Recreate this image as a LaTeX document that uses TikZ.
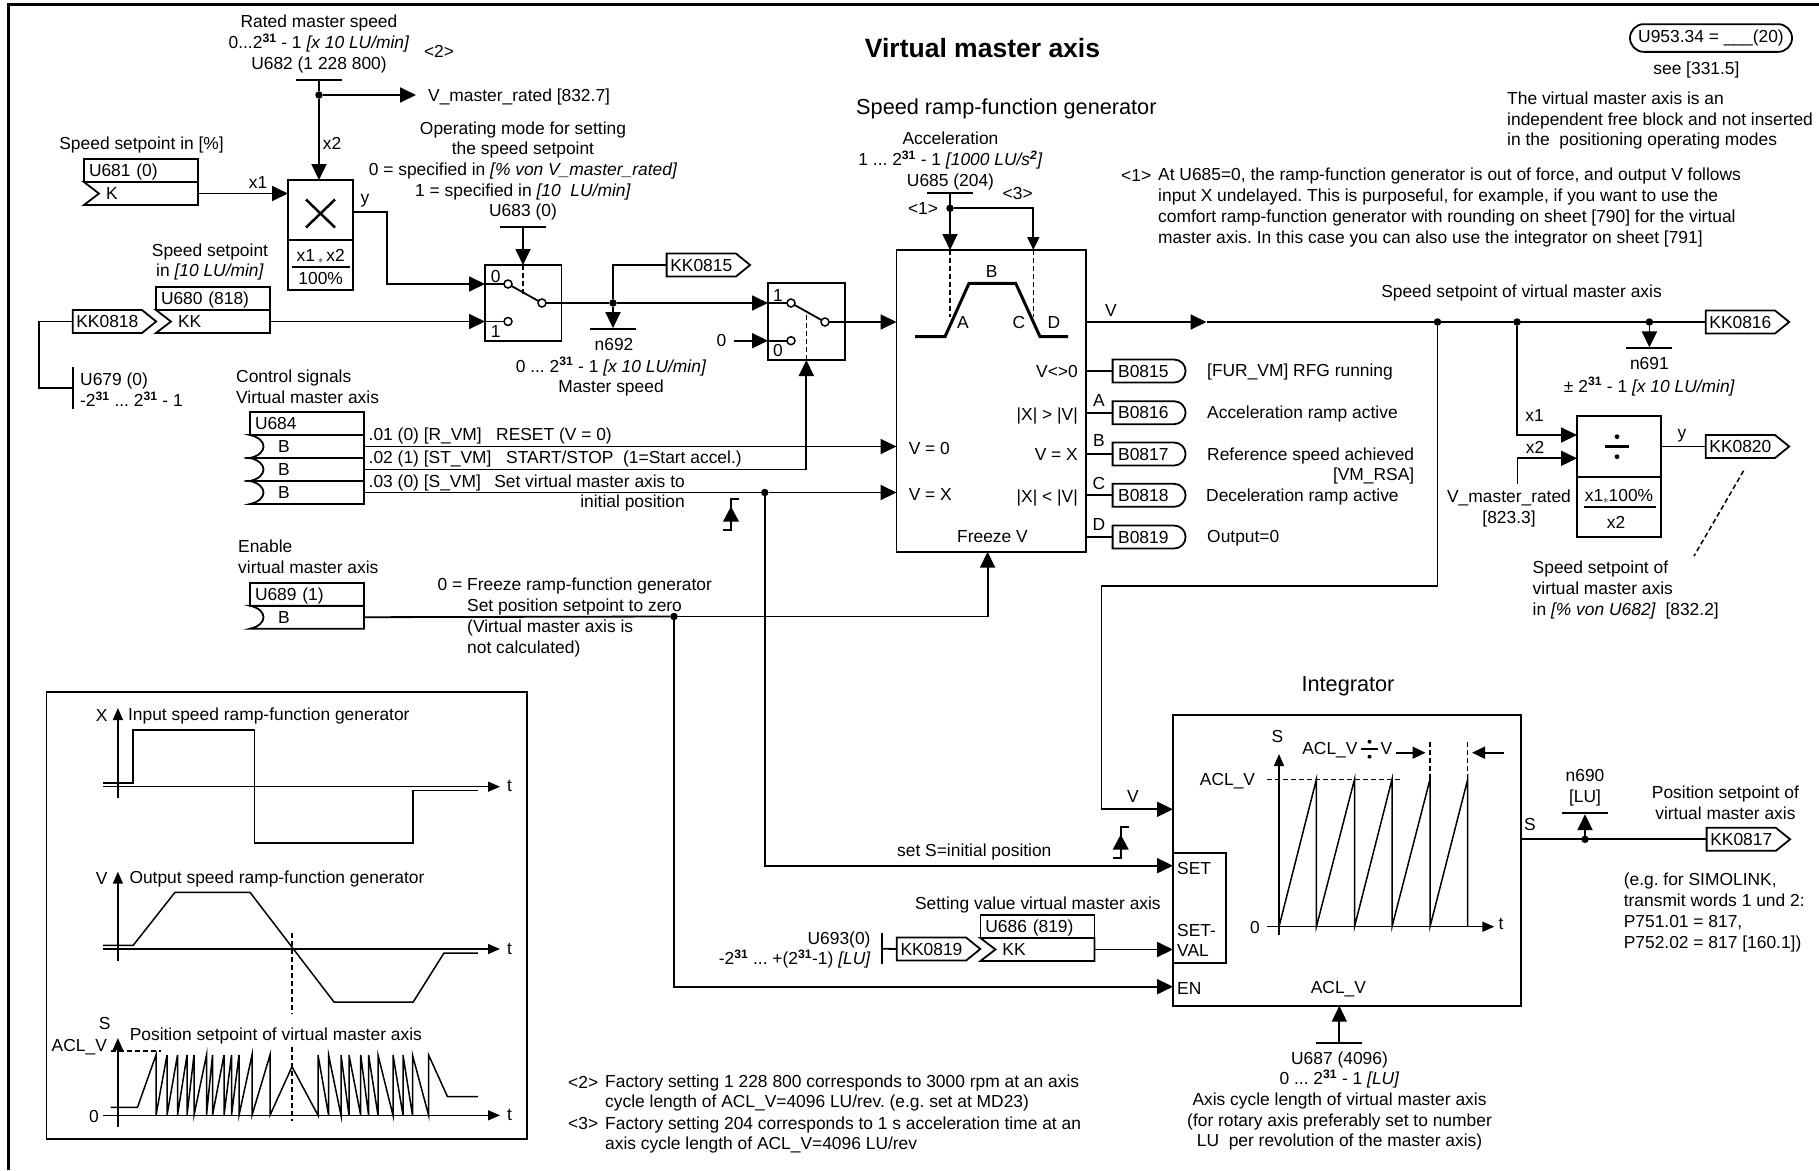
\documentclass[tikz,border=0pt]{standalone}
\usepackage{fontspec}
\setmainfont{Liberation Sans}
\usetikzlibrary{shapes.geometric,shapes.misc,shapes.symbols,calc,arrows.meta,positioning}
\frenchspacing

\newcommand{\twoexp}{2\textsuperscript{\textbf{31}}}
\newcommand{\lowstar}{\raisebox{-0.25ex}{\fontsize{11}{11}\selectfont$\ast$}}
% input cell with a pointed notch, under a header cell
\newcommand{\kkin}[3]{
\node[cell, below=0pt of #2] (#1) {\hspace*{17pt}#3};
\draw[wire] (#1.north west) -- (#1.north east) -- (#1.south east) -- (#1.south west) -- ($(#1.west)+(15,0)$) -- cycle;
}
% input cell with a round notch, under a header cell
\newcommand{\bitin}[3]{
\node[cell, below=0pt of #2] (#1) {\hspace*{23pt}#3};
\draw[wire] (#1.south west) .. controls ($(#1.south west)+(18,-4)$) and ($(#1.north west)+(18,4)$) .. (#1.north west) -- (#1.north east) -- (#1.south east) -- cycle;
}
% edge symbol, hung from its top corner
\newcommand{\edgemark}[1]{
\draw[wire] ($(#1)+(8,0)$) -- (#1) -- ($(#1)+(0,31)$) -- ($(#1)+(-8,31)$);
\fill ($(#1)+(0,7.5)$) -- ($(#1)+(8,22.5)$) -- ($(#1)+(-8,22.5)$) -- cycle;
}

\begin{document}
\begin{tikzpicture}[x=1pt, y=-1pt, >={Triangle[length=16pt,width=15pt]}, font=\fontsize{17.4}{20.7}\selectfont,
wire/.style={line width=1.8pt},
thinw/.style={line width=1.5pt},
dashline/.style={line width=1.5pt, dash pattern=on 5pt off 3pt},
small/.style={-{Triangle[length=13pt,width=12pt]}},
axis/.style={line width=1.5pt, -{Triangle[length=12pt,width=10pt]}},
lbl/.style={inner sep=0pt, text height=12.5pt, text depth=0pt},
para/.style={inner sep=0pt, align=center},
big/.style={inner sep=0pt, font=\fontsize{21.7}{26}\selectfont},
box/.style={draw, wire, inner sep=0pt, outer sep=0pt, anchor=north west},
cellhead/.style={draw, wire, anchor=north west, outer sep=0pt, minimum height=23pt, inner xsep=5pt, inner ysep=0pt, text width=104pt, align=left, text height=12.5pt, text depth=0pt},
cell/.style={outer sep=0pt, minimum height=23pt, inner xsep=5pt, inner ysep=0pt, text width=104pt, align=left, text height=12.5pt, text depth=0pt},
tag/.style={draw, wire, signal, signal to=east, signal from=nowhere, signal pointer angle=78, minimum width=83.5pt, minimum height=23pt, inner sep=0pt, outer sep=0pt, anchor=west, text height=12.5pt, text depth=0pt},
btag/.style={draw, wire, rounded rectangle, rounded rectangle left arc=none, minimum width=83pt, minimum height=23pt, inner xsep=5pt, inner ysep=0pt, outer sep=0pt, text width=60pt, align=left, anchor=west, text height=12.5pt, text depth=0pt},
bar/.style={fill=black, inner sep=0pt, outer sep=0pt, minimum width=46pt, minimum height=1.8pt},
vbar/.style={fill=black, inner sep=0pt, outer sep=0pt, minimum width=1.8pt},
dot/.style={circle, fill=black, inner sep=0pt, outer sep=0pt, minimum size=7.5pt},
contact/.style={circle, draw, thinw, fill=white, inner sep=0pt, outer sep=0pt, minimum size=8pt}]
\useasboundingbox (0,0) rectangle (1819,1170);
\draw[line width=3pt] (8.5,1170) -- (8.5,4) -- (1819,4);

% headings and free notes
\node[inner sep=0pt, font=\fontsize{26.5}{30}\selectfont\bfseries] (title) at (982.5,48.5) {Virtual master axis};
\node[big, anchor=west] (rfgtitle) at (856,108.7) {Speed ramp-function generator};
\node[big] (inttitle) at (1348,686.5) {Integrator};
\node[draw, wire, rounded rectangle, minimum width=162pt, minimum height=27.7pt, inner sep=0pt] (u953) at (1711,38) {U953.34 = \_\_\_(20)};
\node[lbl] (see) at (1696.4,68.5) {see [331.5]};
\node[para, anchor=west, align=left] (free) at (1507,120.5) {The virtual master axis is an\\independent free block and not inserted\\in the~ positioning operating modes};
\node[lbl, anchor=west] (noteone) at (1121,175) {<1>};
\node[para, anchor=west, align=left] (noteonetxt) at (1158,207.5) {At U685=0, the ramp-function generator is out of force, and output V follows\\input X undelayed. This is purposeful, for example, if you want to use the\\comfort ramp-function generator with rounding on sheet [790] for the virtual\\master axis. In this case you can also use the integrator on sheet [791]};
\node[lbl, anchor=west] (notetwo) at (568,1082) {<2>};
\node[para, anchor=west, align=left] (notetwotxt) at (605,1093) {Factory setting 1 228 800 corresponds to 3000 rpm at an axis\\cycle length of ACL\_V=4096 LU/rev. (e.g. set at MD23)};
\node[lbl, anchor=west] (notethree) at (568,1123) {<3>};
\node[para, anchor=west, align=left] (notethreetxt) at (605,1135) {Factory setting 204 corresponds to 1 s acceleration time at an\\axis cycle length of ACL\_V=4096 LU/rev};

% multiplier
\node[para] (ratedtxt) at (319,44) {Rated master speed\\0...\twoexp{} - 1 \textit{[x 10 LU/min]}\\U682 (1 228 800)};
\node[lbl] (marktwo) at (439,51) {<2>};
\node[bar] (u682bar) at (319,80) {};
\node[dot] (dotrated) at (319,95) {};
\coordinate (ratedend) at (416,95);
\node[lbl, anchor=west] (vmaster) at (428,95) {V\_master\_rated [832.7]};
\node[box, minimum width=65pt, minimum height=60pt] (mult) at (288,180) {};
\node[box, minimum width=65pt, minimum height=50pt, below=0pt of mult] (multfrac) {};
\draw[line width=2.5pt] (306,199.5) -- (335,227.5) (335,199.5) -- (306,227.5);
\node[lbl] (multnum) at (320.7,255) {x1\,\lowstar\,x2};
\draw[wire] (292,267) -- (349.5,267);
\node[lbl] (multden) at (320.7,278) {100\%};
\draw[wire] (u682bar) -- (dotrated);
\draw[wire,->] (dotrated) -- (ratedend);
\draw[wire,->] (dotrated) -- (dotrated |- mult.north);
\node[lbl, anchor=west] (lblxtwo) at (322.6,143) {x2};
\node[lbl] (spdpct) at (141.6,143.5) {Speed setpoint in [\%]};
\node[cellhead] (u681) at (84,159) {U681 (0)};
\kkin{u681k}{u681}{K}
\draw[wire,->] (u681k.east) -- (u681k.east -| mult.west);
\node[lbl] (lblxone) at (258,182) {x1};
\node[lbl] (lbly) at (365,197) {y};

% first selector
\node[para] (opmode) at (523,171) {Operating mode for setting\\the speed setpoint\\0 = specified in \textit{[\% von V\_master\_rated]}\\1 = specified in \textit{[10~ LU/min]}\\U683 (0)};
\node[bar] (u683bar) at (523,227) {};
\node[box, minimum width=76.5pt, minimum height=76pt] (sw1) at (485,265) {};
\node[contact] (sw1a) at (508,284) {};
\node[contact] (sw1b) at (508,321.5) {};
\node[contact] (sw1o) at (542,303) {};
\node[lbl] (sw1la) at (495.6,276) {0};
\node[lbl] (sw1lb) at (495.6,331) {1};
\draw[wire] (sw1a) -- (sw1o);
\draw[wire,->] (u683bar) -- (u683bar |- sw1.north);
\draw[dashline] (u683bar |- sw1.north) -- ++(0,29);
\coordinate (multout) at (353,212);
\draw[wire,->] (multout) -- ++(34,0) |- (sw1a -| sw1.west);
\draw[wire] (sw1a -| sw1.west) -- (sw1a);
\node[para] (spdlu) at (210,262) {Speed setpoint\\in \textit{[10 LU/min]}};
\node[cellhead] (u680) at (156,287) {U680 (818)};
\kkin{u680k}{u680}{KK}
\node[tag] (kk0818) at (72.7,321.5) {KK0818};
\draw[wire,->] (u680k.east) -- (u680k.east -| sw1.west);
\draw[wire] (u680k.east -| sw1.west) -- (sw1b);
\node[vbar, minimum height=42pt] (u679bar) at (72.7,387.7) {};
\draw[wire] (kk0818.west) -- ++(-33.7,0) |- (u679bar);
\node[para, anchor=west, align=left] (u679) at (80,390) {U679 (0)\\-\twoexp{} ... \twoexp{} - 1};

% master speed and second selector
\node[box, minimum width=76.7pt, minimum height=76.7pt] (sw2) at (768,283.3) {};
\node[contact] (sw2a) at (791,303) {};
\node[contact] (sw2b) at (791,340.7) {};
\node[contact] (sw2o) at (825,322) {};
\node[lbl] (sw2la) at (778,295) {1};
\node[lbl] (sw2lb) at (778,350) {0};
\draw[wire] (sw2a) -- (sw2o);
\node[dot] (dotspeed) at (613,303) {};
\node[tag] (kk0815) at (666.6,265) {KK0815};
\node[bar] (n692bar) at (613,329) {};
\node[lbl] (n692) at (614,344.3) {n692};
\node[para] (n692txt) at (611,377) {0 ... \twoexp{} - 1 \textit{[x 10 LU/min]}\\Master speed};
\draw[wire] (sw1o) -- (dotspeed);
\draw[wire,->] (dotspeed) -- (sw2a -| sw2.west);
\draw[wire] (sw2a -| sw2.west) -- (sw2a);
\draw[wire] (dotspeed) |- (kk0815.west);
\draw[wire,->] (dotspeed) -- (n692bar);
\node[lbl] (zero) at (721.5,340.7) {0};
\draw[wire,->] (zero) ++(12,0) -- (sw2b -| sw2.west);
\draw[wire] (sw2b -| sw2.west) -- (sw2b);

% control signals
\node[para, anchor=west, align=left] (ctrl) at (236,386.5) {Control signals\\Virtual master axis};
\node[cellhead] (u684) at (250,412) {U684};
\bitin{u684a}{u684}{B}
\bitin{u684b}{u684a}{B}
\bitin{u684c}{u684b}{B}
\node[lbl, anchor=west] (lblrvm) at (368.5,434) {.01 (0) [R\_VM]};
\node[lbl, anchor=west] (lblreset) at (496,434) {RESET (V = 0)};
\node[lbl, anchor=west] (lblstvm) at (368.5,457) {.02 (1) [ST\_VM]};
\node[lbl, anchor=west] (lblstart) at (506,457) {START/STOP~ (1=Start accel.)};
\node[lbl, anchor=west] (lblsvm) at (368.5,481.3) {.03 (0) [S\_VM]};
\node[para, anchor=east, align=right] (lblset) at (685,493) {Set virtual master axis to\\initial position};
\coordinate (edgea) at (731,499);
\edgemark{edgea}
\node[para, anchor=west, align=left] (enabletxt) at (238,556.5) {Enable\\virtual master axis};
\node[cellhead] (u689) at (250,582.7) {U689 (1)};
\bitin{u689b}{u689}{B}
\node[para, anchor=west, align=left] (freezetxt) at (467,617.5) {\llap{0 = }Freeze ramp-function generator\\Set position setpoint to zero\\(Virtual master axis is\\not calculated)};

% ramp-function generator
\node[box, minimum width=189.5pt, minimum height=301.7pt] (rfg) at (896.5,250) {};
\node[para] (acctxt) at (950.5,161) {Acceleration\\1 ... \twoexp{} - 1 \textit{[1000 LU/s\textsuperscript{\textbf{2}}]}\\U685 (204)};
\node[bar] (u685bar) at (950,193.3) {};
\node[dot] (dotacc) at (950,208.3) {};
\node[lbl] (markone) at (923,208.3) {<1>};
\node[lbl] (markthree) at (1017.7,193.3) {<3>};
\coordinate (rfgc) at (1033.3,250);
\draw[wire] (u685bar) -- (dotacc);
\draw[wire,->] (dotacc) -- (dotacc |- rfg.north);
\draw[wire,small] (dotacc) -| (rfgc);
\draw[dashline] (dotacc |- rfg.north) -- ++(0,66.7);
\draw[dashline] (rfgc) -- ++(0,66.7);
\draw[line width=3pt] (915,336.7) -- (945,336.7) -- (969,283.3) -- (1015.7,283.3) -- (1040,336.7) -- (1068,336.7);
\node[lbl] (rampa) at (963,322.7) {A};
\node[lbl] (rampb) at (991.6,271) {B};
\node[lbl] (rampc) at (1019,322.7) {C};
\node[lbl] (rampd) at (1054,322.7) {D};
\node[lbl, anchor=west] (lblvzero) at (908.6,448) {V = 0};
\node[lbl, anchor=west] (lblvx) at (908.6,494.3) {V = X};
\node[lbl] (lblfreeze) at (992.5,536) {Freeze V};
\node[lbl, anchor=east] (outa) at (1078,371) {V<>0};
\node[lbl, anchor=east] (outb) at (1078,414) {|X| > |V|};
\node[lbl, anchor=east] (outc) at (1078,454) {V = X};
\node[lbl, anchor=east] (outd) at (1078,496) {|X| < |V|};
\node[lbl] (leta) at (1099,400) {A};
\node[lbl] (letb) at (1099,440.7) {B};
\node[lbl] (letc) at (1099,483) {C};
\node[lbl] (letd) at (1099,524) {D};
\node[btag] (b0815) at (1112.6,371) {B0815};
\node[btag] (b0816) at (1112.6,412.7) {B0816};
\node[btag] (b0817) at (1112.6,454) {B0817};
\node[btag] (b0818) at (1112.6,495.3) {B0818};
\node[btag] (b0819) at (1112.6,537) {B0819};
\draw[wire] (b0815.west -| rfg.east) -- (b0815.west);
\draw[wire] (b0816.west -| rfg.east) -- (b0816.west);
\draw[wire] (b0817.west -| rfg.east) -- (b0817.west);
\draw[wire] (b0818.west -| rfg.east) -- (b0818.west);
\draw[wire] (b0819.west -| rfg.east) -- (b0819.west);
\node[lbl, anchor=west] (txtb0815) at (1207,370.7) {[FUR\_VM] RFG running};
\node[lbl, anchor=west] (txtb0816) at (1207,412.3) {Acceleration ramp active};
\node[para, anchor=west, align=right] (txtb0817) at (1207,466) {Reference speed achieved\\\hfill[VM\_RSA]};
\node[lbl, anchor=west] (txtb0818) at (1206,495.3) {Deceleration ramp active};
\node[lbl, anchor=west] (txtb0819) at (1207,536.7) {Output=0};
\draw[wire,->] (sw2o) -- (sw2o -| rfg.west);
\draw[wire,->] (u684a.east) -- (u684a.east -| rfg.west);
\draw[wire,->] (u684b.east) -| (sw2.south);
\draw[dashline] (sw2.south) -- ++(0,-47);
\node[dot] (dotset) at (764.8,492.5) {};
\draw[wire] (u684c.east) -- (dotset);
\draw[wire,->] (dotset) -- (dotset -| rfg.west);
\node[dot] (dotfreeze) at (674,616.5) {};
\coordinate (freezein) at (987.6,551.7);
\draw[wire] (u689b.east) -- (dotfreeze);
\draw[wire,->] (dotfreeze) -| (freezein);

% speed output
\node[tag] (kk0816) at (1705.7,322) {KK0816};
\node[dot] (dotint) at (1437.5,322) {};
\node[dot] (dotdiv) at (1517,322) {};
\node[dot] (dotn691) at (1649.4,322) {};
\coordinate (vmid) at (1206.5,322);
\node[lbl] (lblv) at (1111,310) {V};
\draw[wire,->] (rfg.east |- vmid) -- (vmid);
\draw[wire] (vmid) -- (kk0816.west);
\node[lbl] (spdvm) at (1521.5,291.7) {Speed setpoint of virtual master axis};
\node[bar] (n691bar) at (1649.4,348.3) {};
\draw[wire,->] (dotn691) -- (n691bar);
\node[lbl] (n691) at (1649.4,363.3) {n691};
\node[lbl] (n691txt) at (1649.4,386) {± \twoexp{} - 1 \textit{[x 10 LU/min]}};

% divider
\node[box, minimum width=84pt, minimum height=61pt] (divd) at (1577,415.7) {};
\node[box, minimum width=84pt, minimum height=60.6pt, below=0pt of divd] (divfrac) {};
\draw[line width=2.5pt] (1605,446.7) -- (1629,446.7);
\fill (1617,436.7) circle (2.4pt) (1617,456.7) circle (2.4pt);
\node[lbl] (divnum) at (1619,495) {x1\lowstar 100\%};
\draw[wire] (1584,507) -- (1656,507);
\node[lbl] (divden) at (1616,522.7) {x2};
\coordinate (divxa) at (1577,435);
\coordinate (divxb) at (1577,458.3);
\coordinate (ratedfree) at (1517.4,484);
\node[tag] (kk0820) at (1705.7,446.5) {KK0820};
\draw[wire,->] (dotdiv) |- (divxa);
\draw[wire,->] (ratedfree) |- (divxb);
\draw[wire] (kk0820.west -| divd.east) -- (kk0820.west);
\node[lbl] (lblxaa) at (1534.5,415.7) {x1};
\node[lbl] (lblxbb) at (1535,447.7) {x2};
\node[lbl] (lblyy) at (1682,432) {y};
\node[para] (ratedlbl) at (1509,508.5) {V\_master\_rated\\{}[823.3]};
\coordinate (hinta) at (1743.6,470.7);
\coordinate (hintb) at (1694,556);
\draw[dashline] (hinta) -- (hintb);
\node[para, anchor=west, align=left] (spdpcttxt) at (1532.5,590) {Speed setpoint of\\virtual master axis\\in \textit{[\% von U682]}~ [832.2]};

% integrator
\node[box, minimum width=348pt, minimum height=290.7pt] (integ) at (1173,715) {};
\node[box, minimum width=53pt, minimum height=110pt] (setbox) at (1173,852.7) {};
\node[lbl, anchor=west] (lblset2) at (1177,868.3) {SET};
\node[para, anchor=west, align=left] (lblsetval) at (1177,940.5) {SET-\\VAL};
\node[lbl, anchor=west] (lblen) at (1177,988.3) {EN};
\coordinate (intv) at (1173,809.3);
\coordinate (setin) at (1173,865.7);
\coordinate (enin) at (1173,986.7);
\coordinate (bendint) at (1101.4,586);
\draw[wire,->] (dotint) |- (bendint) |- (intv);
\draw[wire,->] (dotset) |- (setin);
\draw[wire,->] (dotfreeze) |- (enin);
\node[lbl] (lblvint) at (1133,796.7) {V};
\node[lbl] (lblinitpos) at (974.3,850.7) {set S=initial position};
\coordinate (edgeb) at (1120.7,827);
\edgemark{edgeb}
\node[lbl] (settingtxt) at (1037.9,903.3) {Setting value virtual master axis};
\node[cellhead] (u686) at (980.4,915) {U686 (819)};
\kkin{u686k}{u686}{KK}
\node[tag] (kk0819) at (896.8,949) {KK0819};
\node[vbar, minimum height=31pt] (u693bar) at (882,948.7) {};
\draw[wire] (u693bar) -- (kk0819.west);
\node[para, anchor=east, align=right] (u693) at (870.7,950) {U693(0)\\-\twoexp{} ... +(\twoexp{}-1) \textit{[LU]}};
\draw[wire,->] (u686k.east) -- (u686k.east -| integ.west);
\draw[thinw] (1279,926.7) -- (1316.4,779.3) -- (1316.4,926.7) -- (1354.5,779.3) -- (1354.5,926.7) -- (1392,779.3) -- (1392,926.7) -- (1430,779.3) -- (1430,926.7) -- (1467.7,779.3) -- (1467.7,926.7);
\draw[axis] (1279,935) -- (1279,754);
\draw[axis] (1267.4,926.7) -- (1494.3,926.7);
\draw[dashline] (1267.4,779.3) -- (1400,779.3);
\draw[dashline] (1430,779.3) -- (1430,741);
\draw[dashline] (1467.7,779.3) -- (1467.7,741);
\node[lbl] (ints) at (1277.4,736) {S};
\node[lbl] (intacl) at (1227.5,779.3) {ACL\_V};
\node[lbl] (intzero) at (1255,927.3) {0};
\node[lbl] (intt) at (1501,923.3) {t};
\node[lbl, anchor=east] (intaclv) at (1357.7,748.3) {ACL\_V};
\draw[line width=2pt] (1361,749.3) -- (1378,749.3);
\fill (1369.5,741.7) circle (2pt) (1369.5,756.7) circle (2pt);
\node[lbl] (intdivv) at (1386.5,748.3) {V};
\draw[wire,small] (1395.7,752.7) -- (1425.5,752.7);
\draw[wire,small] (1503.5,752.7) -- (1472,752.7);
\node[lbl] (intacllow) at (1338.4,987.3) {ACL\_V};
\node[bar] (u687bar) at (1339.3,1043.3) {};
\draw[wire,->] (u687bar) -- (u687bar |- integ.south);
\node[para] (u687) at (1339.5,1101) {U687 (4096)\\0 ... \twoexp{} - 1 \textit{[LU]}\\Axis cycle length of virtual master axis\\(for rotary axis preferably set to number\\LU~ per revolution of the master axis)};
\node[tag] (kk0817) at (1706.6,839.3) {KK0817};
\node[dot] (dotn690) at (1585,839.3) {};
\node[bar] (n690bar) at (1585,813.3) {};
\draw[wire] (integ.east |- kk0817.west) -- (kk0817.west);
\draw[wire,->] (dotn690) -- (n690bar);
\node[lbl] (lbls) at (1530,824) {S};
\node[para] (n690) at (1585,788) {n690\\{}[LU]};
\node[para] (possetp) at (1725.4,802.5) {Position setpoint of\\virtual master axis};
\node[para, anchor=west, align=left] (simolink) at (1623.6,912.5) {(e.g. for SIMOLINK,\\transmit words 1 und 2:\\P751.01 = 817,\\P752.02 = 817 [160.1])};

% inset with the three time charts
\node[box, minimum width=480.4pt, minimum height=447.3pt] (inset) at (46.4,691.7) {};
\draw[thinw] (102.9,783) -- (133.2,783) -- (133.2,730) -- (254.6,730) -- (254.6,843) -- (413.2,843) -- (413.2,790.3) -- (477.9,790.3);
\draw[axis] (117.9,798) -- (117.9,708);
\draw[axis] (102.9,786.7) -- (500,786.7);
\node[lbl] (xaxis) at (101.8,715) {X};
\node[lbl, anchor=west] (xtxt) at (127.9,714.3) {Input speed ramp-function generator};
\node[lbl] (xt) at (509.6,785) {t};
\draw[thinw] (102.9,945.3) -- (133.2,945.3) -- (175,892.3) -- (250,892.3) -- (334,1002) -- (413.2,1002) -- (444,953) -- (477.9,953);
\draw[axis] (117.9,961) -- (117.9,871.7);
\draw[axis] (102.9,949) -- (500,949);
\node[lbl] (vaxis) at (101.8,878.3) {V};
\node[lbl, anchor=west] (vtxt) at (129.3,877.3) {Output speed ramp-function generator};
\node[lbl] (vt) at (509.6,948) {t};
\draw[dashline] (292.1,933.3) -- (292.1,1014);
\draw[dashline] (292.1,1046.7) -- (292.1,1120.7);
\draw[thinw] (110.7,1107.3) -- (137.5,1107.3) -- (156,1055) -- (156,1115.3) -- (167,1055) -- (167,1115.3) -- (177.5,1055) -- (177.5,1115.3) -- (187,1055) -- (187,1115.3) -- (194,1055) -- (194,1115.3) -- (206.5,1055) -- (206.5,1115.3) -- (212.5,1055) -- (212.5,1115.3) -- (224,1055) -- (224,1115.3) -- (231.5,1055) -- (231.5,1115.3) -- (239,1055) -- (239,1115.3) -- (252,1055) -- (252,1115.3) -- (270,1055) -- (270,1115.3) -- (292,1066.7) -- (318,1115.3) -- (318,1055) -- (328.6,1115.3) -- (328.6,1055) -- (341,1115.3) -- (341,1055) -- (349,1115.3) -- (349,1055) -- (360.7,1115.3) -- (360.7,1055) -- (368.6,1115.3) -- (368.6,1055) -- (378,1115.3) -- (378,1055) -- (393,1115.3) -- (393,1055) -- (403,1115.3) -- (403,1055) -- (412.5,1115.3) -- (412.5,1055) -- (428.6,1115.3) -- (428.6,1055) -- (447.5,1096.7) -- (477.9,1096.7);
\draw[axis] (117.9,1126.7) -- (117.9,1038);
\draw[axis] (102.9,1115.3) -- (500,1115.3);
\draw[dashline] (110.7,1051) -- (160.7,1051);
\node[lbl] (saxis) at (104.6,1023.3) {S};
\node[lbl] (saclv) at (79.3,1045) {ACL\_V};
\node[lbl] (szero) at (94,1116) {0};
\node[lbl, anchor=west] (stxt) at (129.6,1034.3) {Position setpoint of virtual master axis};
\node[lbl] (st) at (509.6,1114) {t};
\end{tikzpicture}
\end{document}
